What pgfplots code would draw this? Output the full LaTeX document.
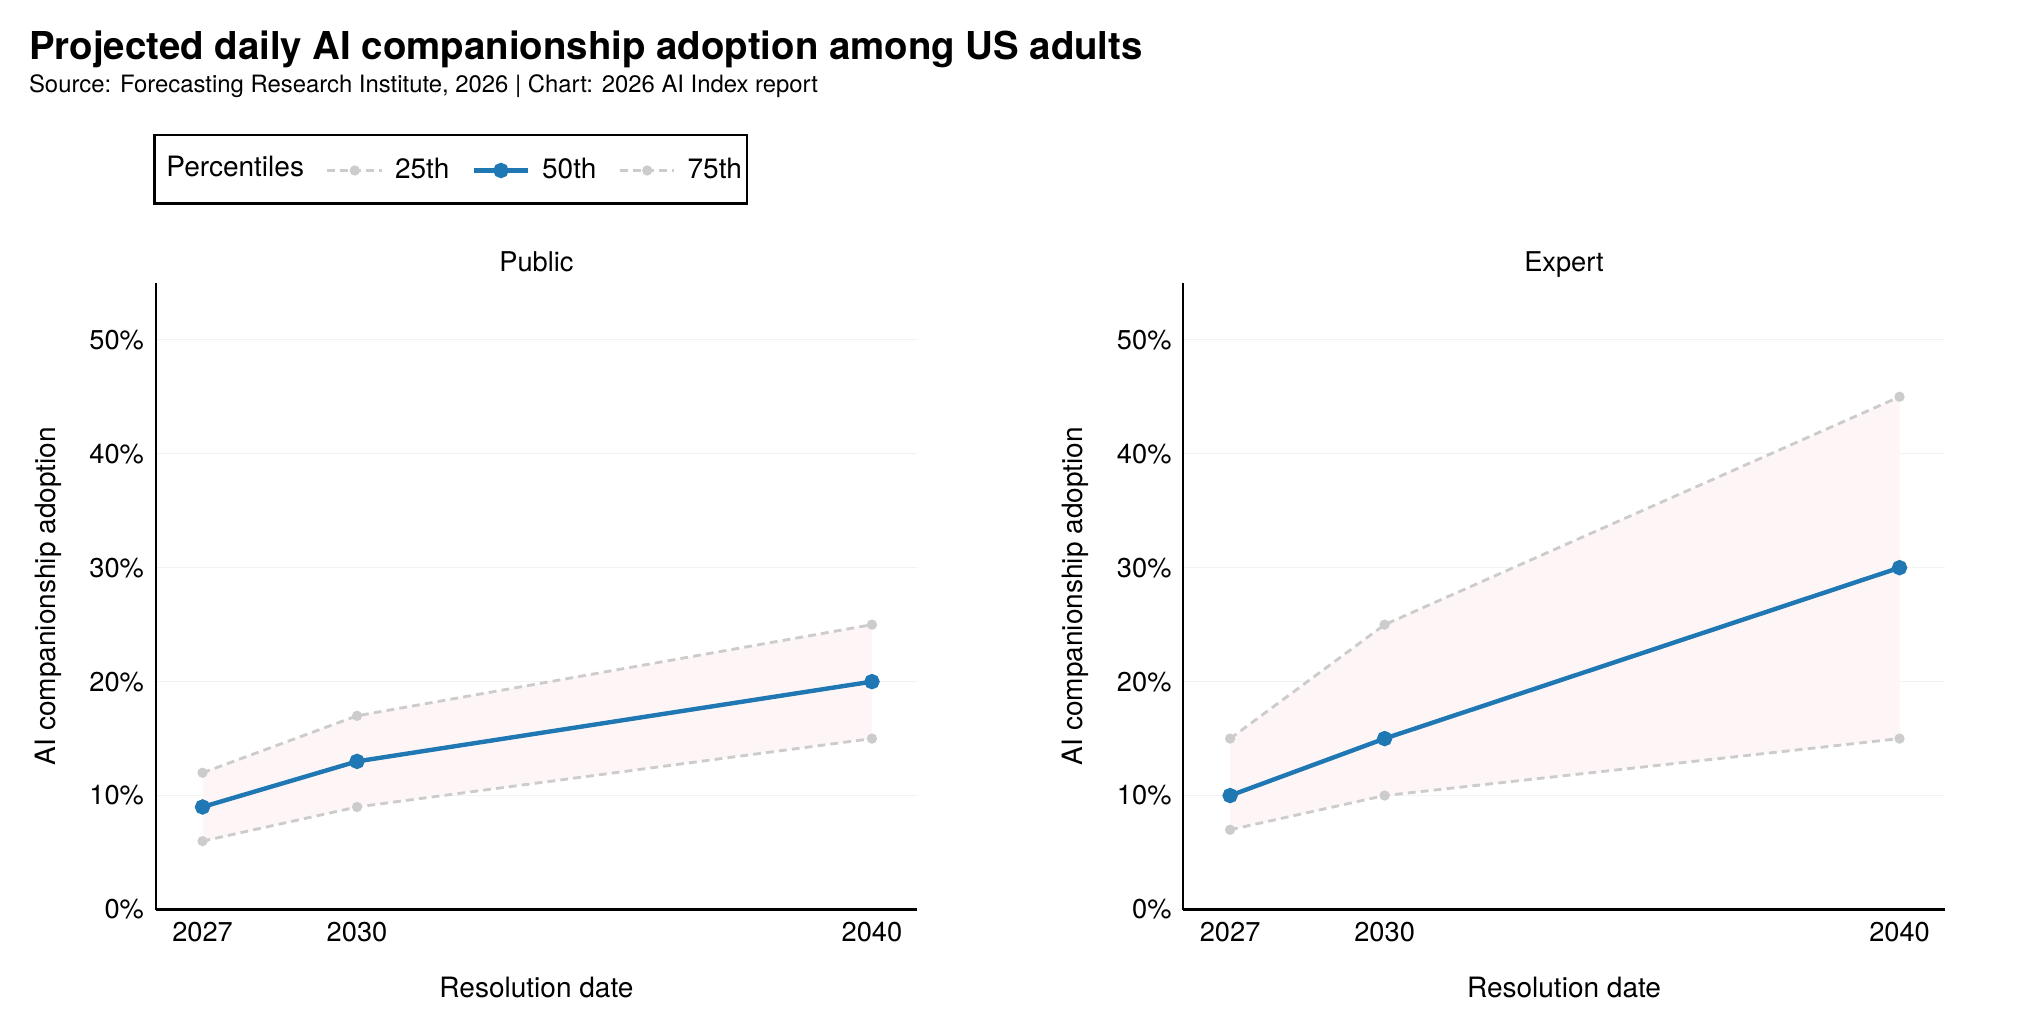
\documentclass[border=0pt]{standalone}
\usepackage{pgfplots}
\pgfplotsset{compat=1.18}
\usepackage{fontspec}
\setmainfont{TeX Gyre Heros}
\definecolor{medblue}{HTML}{1F77B4}
\definecolor{pctgray}{HTML}{CCCCCC}
\definecolor{bandpink}{HTML}{FEF6F6}
\definecolor{gridgray}{HTML}{F2F2F2}

\pgfplotsset{
  panel/.style={
    scale only axis, width=293.5pt, height=241.5pt,
    anchor=south west,
    xmin=2026.09, xmax=2040.88, ymin=0, ymax=55,
    axis x line*=bottom, axis y line*=left,
    axis line style={line width=0.9pt, black},
    major tick length=0pt,
    xtick={2027,2030,2040}, xticklabels={2027,2030,2040},
    ytick={0,10,20,30,40,50},
    yticklabel={\pgfmathprintnumber{\tick}\%},
    /pgf/number format/assume math mode=true,
    ticklabel style={font=\fontsize{10.5}{12}\selectfont},
    yticklabel style={xshift=-1pt},
    xticklabel style={yshift=-1.5pt},
    ymajorgrids, grid style={gridgray, line width=0.5pt},
    label style={font=\fontsize{10.8}{12}\selectfont},
    xlabel={Resolution date},
    ylabel={AI companionship adoption},
    xlabel style={at={(axis description cs:0.5,-0.1245)}, anchor=center},
    ylabel style={at={(axis description cs:-0.1414,0.5)}, anchor=center},
    title style={at={(axis description cs:0.5,1.0186)}, anchor=base, yshift=-6pt, inner sep=0pt, font=\fontsize{10.5}{12}\selectfont},
    clip=false,
  },
  pct/.style={pctgray, dash pattern=on 3pt off 2pt, line width=1.1pt, mark=*, mark size=1.4pt, mark options={solid, fill=pctgray, draw=pctgray}},
  med/.style={medblue, line width=1.7pt, mark=*, mark size=2.1pt, mark options={solid, fill=medblue, draw=medblue}},
}

\begin{document}
\begin{tikzpicture}
\path (0,0) rectangle (780pt,-395.4pt);
\node[anchor=base west, inner sep=0pt, font=\fontsize{14.8}{17}\selectfont\bfseries] at (11pt,-23pt) {Projected daily AI companionship adoption among US adults};
\node[anchor=base west, inner sep=0pt, font=\fontsize{9.2}{10}\selectfont] at (11pt,-35.5pt) {Source: Forecasting Research Institute, 2026 | Chart: 2026 AI Index report};

% Public
\begin{axis}[panel, at={(60pt,-350.5pt)}, title={Public},
  legend columns=-1,
  legend image code/.code={
    \draw[mark repeat=2, mark phase=2, #1] plot coordinates {(0pt,0pt) (10.5pt,0pt) (21pt,0pt)};},
  legend style={at={(axis description cs:-0.003,1.238)}, anchor=north west,
    draw=black, line width=1pt, font=\fontsize{10.8}{12}\selectfont,
    inner xsep=0pt, inner ysep=6pt,
    /tikz/every odd column/.append style={column sep=2.5pt},
    /tikz/every even column/.append style={column sep=6.5pt}},
  legend cell align=left]
\addlegendimage{legend image code/.code={}}
\addlegendentry[xshift=-7.5pt, yshift=1pt]{Percentiles}
\addplot[draw=none, fill=bandpink, forget plot] coordinates {(2027,6) (2030,9) (2040,15) (2040,25) (2030,17) (2027,12)};
\addplot[pct] coordinates {(2027,6) (2030,9) (2040,15)};
\addlegendentry{25th}
\addplot[med] coordinates {(2027,9) (2030,13) (2040,20)};
\addlegendentry{50th}
\addplot[pct] coordinates {(2027,12) (2030,17) (2040,25)};
\addlegendentry{75th}
\end{axis}

% Expert
\begin{axis}[panel, at={(456pt,-350.5pt)}, title={Expert}]
\addplot[draw=none, fill=bandpink, forget plot] coordinates {(2027,7) (2030,10) (2040,15) (2040,45) (2030,25) (2027,15)};
\addplot[pct] coordinates {(2027,7) (2030,10) (2040,15)};
\addplot[med] coordinates {(2027,10) (2030,15) (2040,30)};
\addplot[pct] coordinates {(2027,15) (2030,25) (2040,45)};
\end{axis}
\end{tikzpicture}
\end{document}
